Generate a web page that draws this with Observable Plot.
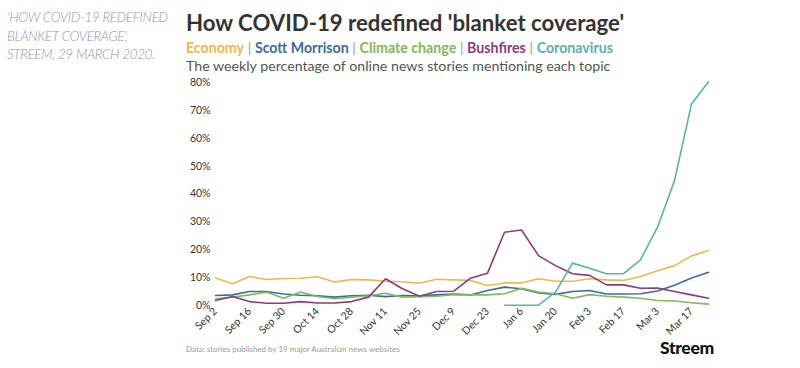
<!DOCTYPE html>
<html>
<head>
<meta charset="utf-8">
<script src="https://cdn.jsdelivr.net/npm/d3@7"></script>
<script src="https://cdn.jsdelivr.net/npm/@observablehq/plot@0.6"></script>
<style>
  html, body { margin: 0; padding: 0; background: #fff; }
  #wrap { position: relative; width: 800px; height: 368px; overflow: hidden; font-family: Lato, "Open Sans", sans-serif; }
  .abs { position: absolute; white-space: nowrap; line-height: 1; }
  #note { left: 7px; top: 8px; font-size: 13.4px; font-style: italic; font-weight: 300; color: #9a8db0; line-height: 18.7px; letter-spacing: -0.3px; }
  #title { left: 186px; top: 12px; font-size: 22.2px; font-weight: 700; color: #333; }
  #legend { left: 186px; top: 41px; font-size: 14.2px; font-weight: 700; }
  #legend .sep { color: #999; font-weight: 400; }
  #sub { left: 186px; top: 59px; font-size: 14.2px; color: #555; }
  #foot { left: 186px; top: 345px; font-size: 8px; color: #999; }
  #brand { left: 660px; top: 339px; font-size: 17.5px; font-weight: 900; color: #111; letter-spacing: -0.3px; }
  #chart { position: absolute; left: 0; top: 72px; }
</style>
</head>
<body>
<div id="wrap">
  <div class="abs" id="note">'HOW COVID-19 REDEFINED<br>BLANKET COVERAGE',<br>STREEM, 29 MARCH 2020.</div>
  <div class="abs" id="title">How COVID-19 redefined 'blanket coverage'</div>
  <div class="abs" id="legend"></div>
  <div class="abs" id="sub">The weekly percentage of online news stories mentioning each topic</div>
  <div class="abs" id="foot">Data: stories published by 19 major Australian news websites</div>
  <div class="abs" id="brand">Streem</div>
  <div id="chart"></div>
</div>
<script>
const weeks = ["Sep 2","Sep 9","Sep 16","Sep 23","Sep 30","Oct 7","Oct 14","Oct 21","Oct 28","Nov 4",
  "Nov 11","Nov 18","Nov 25","Dec 2","Dec 9","Dec 16","Dec 23","Dec 30","Jan 6","Jan 13",
  "Jan 20","Jan 27","Feb 3","Feb 10","Feb 17","Feb 24","Mar 3","Mar 10","Mar 17","Mar 24"];

const topics = ["Economy","Scott Morrison","Climate change","Bushfires","Coronavirus"];
const topicColors = ["#ebb94e","#3c6b9c","#82b85d","#8c3b7b","#5cb1ae"];

const economy = [9.9,7.8,10.4,9.3,9.7,9.8,10.3,8.4,9.3,9.2,8.7,8.5,8.0,9.4,9.2,9.0,7.2,8.1,8.1,9.6,8.7,8.7,9.6,9.2,9.0,10.4,12.5,14.3,17.8,19.7];
const scottMorrison = [3.6,3.8,5.0,5.0,4.1,3.7,3.5,3.0,3.5,3.7,3.2,3.6,3.5,3.8,4.1,3.8,5.4,6.6,6.0,4.5,4.0,5.0,5.4,4.1,4.1,4.2,5.2,7.3,9.9,11.9];
const climateChange = [2.4,3.0,3.8,4.8,2.6,4.8,3.2,2.4,3.0,3.5,4.4,3.0,3.2,3.3,3.9,3.8,3.8,4.2,6.2,4.8,4.2,2.6,3.9,3.3,3.0,2.6,1.8,1.6,1.0,0.5];
const bushfires = [1.8,3.2,1.4,0.8,0.8,1.4,0.9,0.9,1.4,3.0,9.6,6.0,3.3,5.0,5.1,9.8,11.6,26.3,27.1,17.9,14.3,11.4,10.8,7.4,7.4,6.2,6.3,5.0,3.8,2.6];
const coronavirus = [null,null,null,null,null,null,null,null,null,null,null,null,null,null,null,null,null,0.1,0.1,0.1,4.8,15.2,13.4,11.4,11.4,16.4,28.1,44.8,72.3,80.3];

const yTicks = [0,10,20,30,40,50,60,70,80];
const xTickWeeks = weeks.filter((w, i) => i % 2 === 0);

const seriesValues = [economy, scottMorrison, climateChange, bushfires, coronavirus];
const rows = [];
topics.forEach((t, k) => {
  seriesValues[k].forEach((v, i) => {
    if (v !== null) rows.push({topic: t, week: weeks[i], value: v});
  });
});

const legend = document.getElementById("legend");
topics.forEach((t, k) => {
  if (k > 0) {
    const s = document.createElement("span");
    s.className = "sep";
    s.textContent = " | ";
    legend.appendChild(s);
  }
  const s = document.createElement("span");
  s.textContent = t;
  s.style.color = topicColors[k];
  legend.appendChild(s);
});

const chart = Plot.plot({
  width: 800,
  height: 290,
  marginLeft: 212,
  marginRight: 89,
  marginTop: 10,
  marginBottom: 57,
  style: {fontFamily: "Lato, 'Open Sans', sans-serif", fontSize: "10.5px", color: "#333", background: "transparent"},
  x: {type: "point", domain: weeks, padding: 0},
  y: {domain: [0, 80]},
  color: {domain: topics, range: topicColors},
  marks: [
    Plot.gridY(yTicks, {stroke: "#ebebeb", strokeOpacity: 1, x1: 212, x2: 713}),
    Plot.axisY(yTicks, {tickSize: 0, tickPadding: 2, tickFormat: d => d + "%", label: null}),
    Plot.axisX(xTickWeeks, {tickSize: 0, tickPadding: 4, tickRotate: -45, label: null}),
    Plot.line(rows, {x: "week", y: "value", z: "topic", stroke: "topic", strokeWidth: 1.6, curve: "linear"})
  ]
});
document.getElementById("chart").appendChild(chart);
</script>
</body>
</html>
